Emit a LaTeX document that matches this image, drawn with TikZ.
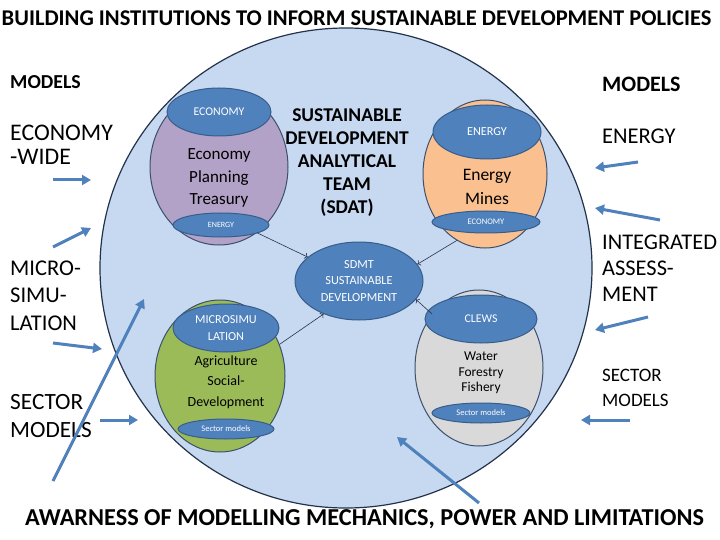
\documentclass[tikz,border=0pt]{standalone}
\usepackage{fontspec}
\setmainfont{Carlito}
\usetikzlibrary{shapes.geometric,arrows.meta}

\definecolor{circfill}{RGB}{198,217,241}
\definecolor{circline}{RGB}{35,50,75}
\definecolor{ovalline}{RGB}{60,80,110}
\definecolor{purpfill}{RGB}{179,162,199}
\definecolor{orangefill}{RGB}{250,192,144}
\definecolor{greenfill}{RGB}{155,187,89}
\definecolor{greyfill}{RGB}{217,217,217}
\definecolor{tagblue}{RGB}{79,129,189}
\definecolor{tagline}{RGB}{56,93,138}
\definecolor{arrowblue}{RGB}{79,129,189}
\definecolor{linkgray}{RGB}{40,50,75}

\begin{document}
\begin{tikzpicture}[x=1pt,y=-1pt,
  oval/.style={ellipse,draw=ovalline,line width=1pt,inner sep=0pt},
  tag/.style={ellipse,fill=tagblue,draw=tagline,line width=1pt,text=white,inner sep=0pt,align=center},
  side/.style={anchor=west,align=left,inner sep=0pt},
  inarrow/.style={draw=arrowblue,line width=3pt,-{Triangle[length=9pt,width=10pt]}},
  link/.style={draw=linkgray,line width=0.6pt,->}]
\useasboundingbox[fill=white] (0,0) rectangle (720,540);

% the team
\node[ellipse,fill=circfill,minimum width=492pt,minimum height=480pt,inner sep=0pt] (team) at (346,268) {};

\node[oval,fill=purpfill,minimum width=138pt,minimum height=156pt] (econ) at (219,167) {};
\node[oval,fill=orangefill,minimum width=124pt,minimum height=148pt] (energy) at (485,174) {};
\node[oval,fill=greenfill,minimum width=130pt,minimum height=152pt] (agri) at (220,376) {};
\node[oval,fill=greyfill,minimum width=128pt,minimum height=156pt] (water) at (479,368) {};

\node[tag,minimum width=104pt,minimum height=48pt,font=\fontsize{11.8}{13}\selectfont] (econtop) at (219,112) {ECONOMY};
\node[tag,minimum width=96pt,minimum height=24pt,font=\fontsize{8}{9}\selectfont] (econbot) at (221,225) {ENERGY};
\node[tag,minimum width=108pt,minimum height=54pt,font=\fontsize{12.2}{14}\selectfont] (energytop) at (487,132) {ENERGY};
\node[tag,minimum width=108pt,minimum height=22pt,font=\fontsize{8.5}{9}\selectfont] (energybot) at (486,222) {ECONOMY};
\node[tag,minimum width=106pt,minimum height=48pt,font=\fontsize{12.2}{17}\selectfont] (agritop) at (226,328) {MICROSIMU\\LATION};
\node[tag,minimum width=96pt,minimum height=20pt,font=\fontsize{8.5}{9}\selectfont] (agribot) at (226,429) {Sector models};
\node[tag,minimum width=112pt,minimum height=48pt,font=\fontsize{11.8}{13}\selectfont] (watertop) at (481,319) {CLEWS};
\node[tag,minimum width=98pt,minimum height=20pt,font=\fontsize{8.5}{9}\selectfont] (waterbot) at (481,413) {Sector models};

\node[tag,minimum width=128pt,minimum height=78pt,font=\fontsize{12.3}{16.5}\selectfont] (sdmt) at (359,281) {SDMT\\SUSTAINABLE\\DEVELOPMENT};

% texts in the ovals
\node[align=center,font=\fontsize{17}{22.5}\selectfont] (econtext) at (219,178) {Economy\\Planning\\Treasury};
\node[align=center,font=\fontsize{17.5}{24}\selectfont] (energytext) at (487,187) {Energy\\Mines};
\node[align=center,font=\fontsize{14}{20.5}\selectfont] (agritext) at (226,382) {Agriculture\\Social-\\Development};
\node[align=center,font=\fontsize{13.5}{15.5}\selectfont] (watertext) at (481,373) {Water\\Forestry\\Fishery};
\node[align=center,font=\bfseries\fontsize{19.5}{23}\selectfont] (sdat) at (347,163) {SUSTAINABLE\\DEVELOPMENT\\ANALYTICAL\\TEAM\\(SDAT)};

\draw[link] (econ.-60) -- (sdmt.155);
\draw[link] (energy.-113) -- (sdmt.16);
\draw[link] (water.131) -- (sdmt.-18);
\draw[link] (agri.28) -- (sdmt.-137);

\draw[circline,line width=1.2pt] (team.center) ellipse [x radius=246, y radius=240];

% labels
\node[font=\bfseries\fontsize{22.5}{26}\selectfont] (title) at (356.5,18) {BUILDING INSTITUTIONS TO INFORM SUSTAINABLE DEVELOPMENT POLICIES};
\node[font=\bfseries\fontsize{24.3}{28}\selectfont] (awareness) at (364.5,519) {AWARNESS OF MODELLING MECHANICS, POWER AND LIMITATIONS};

\node[side,font=\bfseries\fontsize{19.8}{22}\selectfont] (modelsL) at (10,82) {MODELS};
\node[side,font=\fontsize{23.8}{24}\selectfont] (econwide) at (10,145) {ECONOMY\\-WIDE};
\node[side,font=\fontsize{22.5}{27.5}\selectfont] (microsim) at (10,295.5) {MICRO-\\SIMU-\\LATION};
\node[side,font=\fontsize{23.3}{28}\selectfont] (sectorL) at (10,416) {SECTOR\\MODELS};

\node[side,font=\bfseries\fontsize{22}{24}\selectfont] (modelsR) at (602,84) {MODELS};
\node[side,font=\fontsize{22.5}{24}\selectfont] (energyR) at (602,136) {ENERGY};
\node[side,font=\fontsize{22.4}{26}\selectfont] (integrated) at (602,268) {INTEGRATED\\ASSESS-\\MENT};
\node[side,font=\fontsize{19}{25}\selectfont] (sectorR) at (602,387.5) {SECTOR\\MODELS};

% inflows
\coordinate (econwideA) at (53,180); \coordinate (econwideB) at (91,180);
\coordinate (microA) at (53,247); \coordinate (microB) at (91,228);
\coordinate (microC) at (53,343); \coordinate (microD) at (102,349);
\coordinate (sectorA) at (100,420); \coordinate (sectorB) at (138,420);
\coordinate (longA) at (53,481); \coordinate (longB) at (144,299);
\coordinate (energyA) at (638,162); \coordinate (energyB) at (595,168);
\coordinate (integA) at (660,220); \coordinate (integB) at (595,208);
\coordinate (integC) at (648,317); \coordinate (integD) at (595,330);
\coordinate (sectorC) at (630,420); \coordinate (sectorD) at (581,420);
\coordinate (awareA) at (479,503); \coordinate (awareB) at (397,437);

\draw[inarrow] (econwideA) -- (econwideB);
\draw[inarrow] (microA) -- (microB);
\draw[inarrow] (microC) -- (microD);
\draw[inarrow] (sectorA) -- (sectorB);
\draw[inarrow] (longA) -- (longB);
\draw[inarrow] (energyA) -- (energyB);
\draw[inarrow] (integA) -- (integB);
\draw[inarrow] (integC) -- (integD);
\draw[inarrow] (sectorC) -- (sectorD);
\draw[inarrow] (awareA) -- (awareB);
\end{tikzpicture}
\end{document}
